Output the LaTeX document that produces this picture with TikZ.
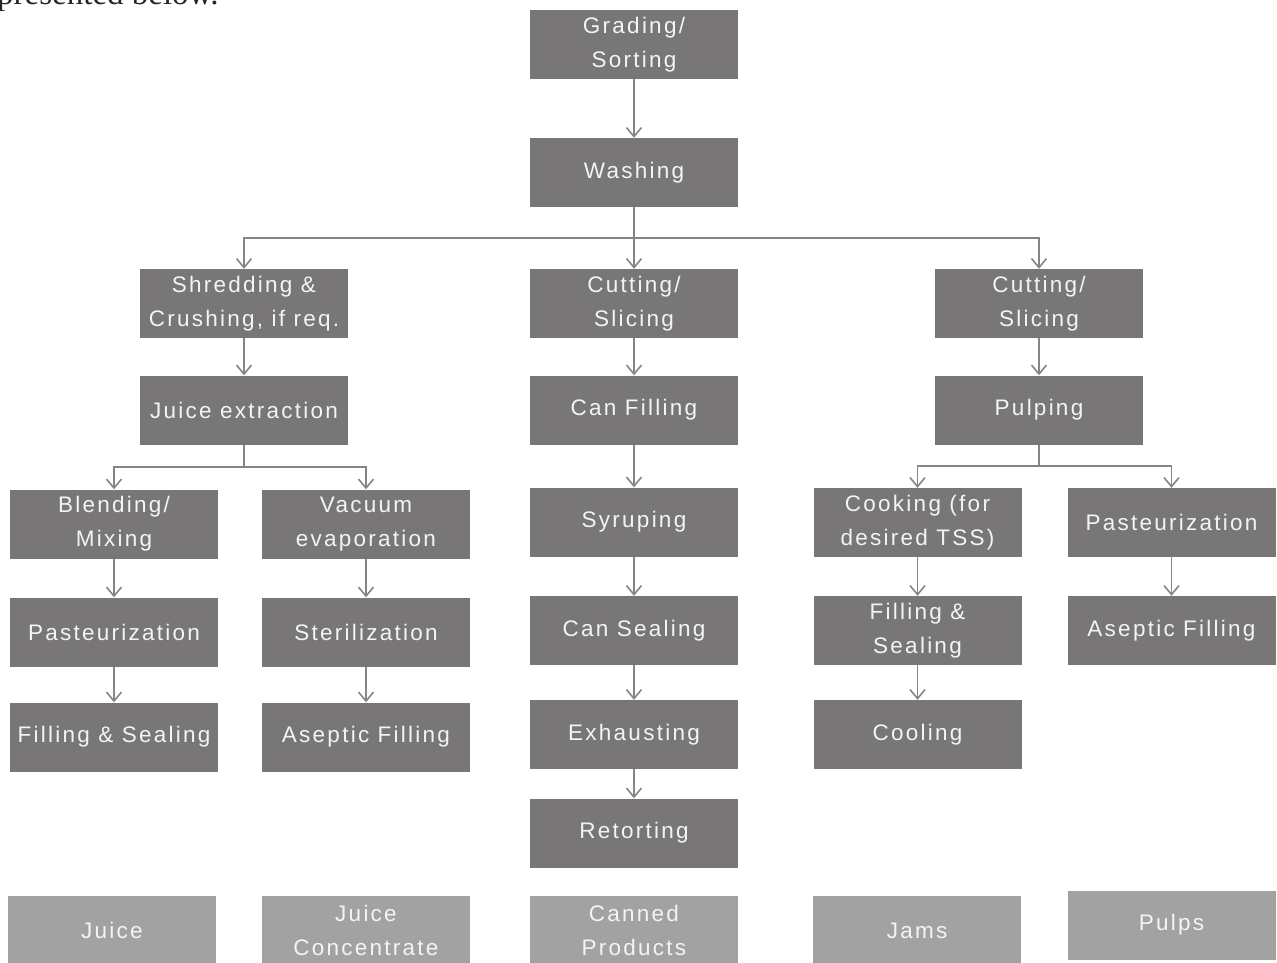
\documentclass[tikz,border=0pt]{standalone}
\usepackage{fontspec}
\setmainfont{Liberation Sans}
\newfontfamily\boxfont{Liberation Sans}[LetterSpace=10]
\newfontfamily\bodyfont{Liberation Serif}
\usetikzlibrary{arrows.meta}
\definecolor{stepgray}{HTML}{787677}
\definecolor{prodgray}{HTML}{A2A2A2}
\definecolor{linegray}{HTML}{858585}
\definecolor{textwhite}{HTML}{F4F4F4}
\tikzset{
  stepbox/.style={fill=stepgray, draw=none, minimum width=208pt, minimum height=69pt,
    inner sep=0pt, align=center, text=textwhite,
    font=\boxfont\fontsize{22.5pt}{34pt}\selectfont},
  prodbox/.style={stepbox, fill=prodgray},
  flow/.style={draw=linegray, line width=1.6pt,
    -{Straight Barb[length=9pt, width=15pt, line width=1.6pt]}},
  plain/.style={draw=linegray, line width=1.6pt}
}
\begin{document}
\begin{tikzpicture}[x=1pt, y=-1pt]
\useasboundingbox (0,0) rectangle (1277,962);
\begin{scope}
\clip (0,0) rectangle (1277,962);
% running text of the page above the chart
\node[anchor=base west, inner sep=0pt, font=\bodyfont\fontsize{33pt}{36pt}\selectfont, text=black!85]
  (intro) at (-3,4) {presented below.};

% main trunk
\node[stepbox] (grad) at (634,44.5) {Grading/\\Sorting};
\node[stepbox] (wash) at (634,172.5) {Washing};

% three lines of processing
\node[stepbox] (shred) at (244,303.5) {Shredding \&\\Crushing, if req.};
\node[stepbox] (cutm) at (634,303.5) {Cutting/\\Slicing};
\node[stepbox] (cutr) at (1039,303.5) {Cutting/\\Slicing};

\node[stepbox] (extr) at (244,410) {Juice extraction};
\node[stepbox] (canf) at (634,410) {Can Filling};
\node[stepbox] (pulp) at (1039,410) {Pulping};

% juice branch
\node[stepbox] (blend) at (114,524) {Blending/\\Mixing};
\node[stepbox] (vac) at (366,524) {Vacuum\\evaporation};
\node[stepbox] (pastl) at (114,632) {Pasteurization};
\node[stepbox] (ster) at (366,632) {Sterilization};
\node[stepbox] (filll) at (114,737) {Filling \& Sealing};
\node[stepbox] (asepl) at (366,737) {Aseptic Filling};

% canning line
\node[stepbox] (syr) at (634,522) {Syruping};
\node[stepbox] (seal) at (634,630.5) {Can Sealing};
\node[stepbox] (exh) at (634,734.5) {Exhausting};
\node[stepbox] (ret) at (634,833) {Retorting};

% pulp branch
\node[stepbox] (cook) at (917.5,522.5) {Cooking (for\\desired TSS)};
\node[stepbox] (pastr) at (1171.5,522.5) {Pasteurization};
\node[stepbox] (fillr) at (917.5,630.5) {Filling \&\\Sealing};
\node[stepbox] (asepr) at (1171.5,630.5) {Aseptic Filling};
\node[stepbox] (cool) at (917.5,734.5) {Cooling};

% products
\node[prodbox] (pjuice) at (112,930.5) {Juice};
\node[prodbox] (pconc) at (366,930.5) {Juice\\Concentrate};
\node[prodbox] (pcan) at (634,930.5) {Canned\\Products};
\node[prodbox] (pjam) at (917,930.5) {Jams};
\node[prodbox] (ppulp) at (1171.5,925) {Pulps};

% connectors
\coordinate (s1) at (634,238);
\coordinate (s2) at (244,467);
\coordinate (s3) at (1039,466);

\draw[flow] (grad) -- (wash);
\draw[plain] (wash) -- (s1);
\draw[flow] (s1) -| (shred);
\draw[flow] (s1) -- (cutm);
\draw[flow] (s1) -| (cutr);

\draw[flow] (shred) -- (extr);
\draw[flow] (cutm) -- (canf);
\draw[flow] (cutr) -- (pulp);

\draw[plain] (extr) -- (s2);
\draw[flow] (s2) -| (blend);
\draw[flow] (s2) -| (vac);
\draw[flow] (blend) -- (pastl);
\draw[flow] (pastl) -- (filll);
\draw[flow] (vac) -- (ster);
\draw[flow] (ster) -- (asepl);

\draw[flow] (canf) -- (syr);
\draw[flow] (syr) -- (seal);
\draw[flow] (seal) -- (exh);
\draw[flow] (exh) -- (ret);

\draw[plain] (pulp) -- (s3);
\draw[flow] (s3) -| (cook);
\draw[flow] (s3) -| (pastr);
\draw[flow] (cook) -- (fillr);
\draw[flow] (fillr) -- (cool);
\draw[flow] (pastr) -- (asepr);
\end{scope}
\end{tikzpicture}
\end{document}
